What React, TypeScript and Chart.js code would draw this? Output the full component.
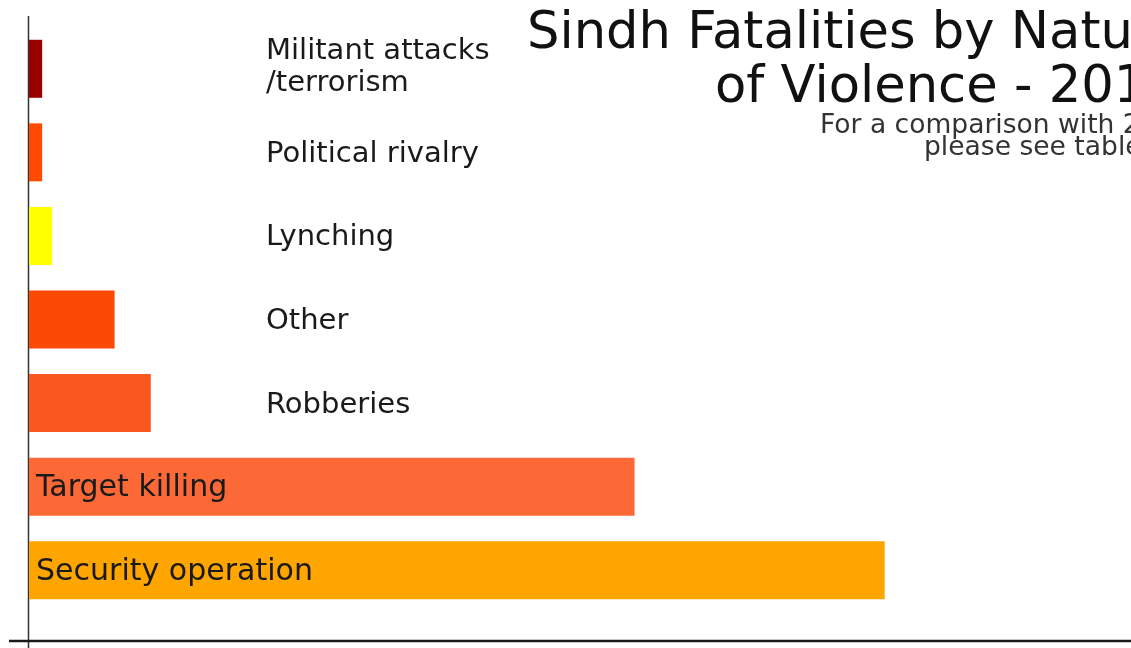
import React, { useEffect, useRef } from "react";
import { Chart, registerables } from "chart.js";

Chart.register(...registerables);

const categories = [
  "Militant attacks\n/terrorism",
  "Political rivalry",
  "Lynching",
  "Other",
  "Robberies",
  "Target killing",
  "Security operation",
];
const fatalities = [4, 4, 7, 26, 37, 184, 260];
const barColors = ["#990000", "#FF4A00", "#FFFF00", "#FA4A05", "#F9581F", "#FC6936", "#FFA500"];
const titleLines = ["Sindh Fatalities by Nature", "of Violence - 2012"];
const subtitleLines = ["For a comparison with 2011", "please see tables"];
const xMax = 340;

const FONT = "'DejaVu Sans', sans-serif";
const CANVAS_W = 1220;
const CANVAS_H = 648;

// choose a font size so that `sample` is `target` px wide
function fitSize(ctx: CanvasRenderingContext2D, sample: string, target: number) {
  ctx.font = `100px ${FONT}`;
  const w = ctx.measureText(sample).width;
  return (100 * target) / w;
}

const decorPlugin = {
  id: "decor",
  beforeDatasetsDraw(chart: any) {
    const ctx = chart.ctx;
    ctx.save();
    ctx.strokeStyle = "#333";
    ctx.lineWidth = 1.5;
    ctx.beginPath();
    ctx.moveTo(28.5, 16);
    ctx.lineTo(28.5, 648);
    ctx.stroke();
    ctx.restore();
  },
  afterDatasetsDraw(chart: any) {
    const ctx = chart.ctx;
    const area = chart.chartArea;
    const meta = chart.getDatasetMeta(0);
    ctx.save();
    // x axis line
    ctx.strokeStyle = "#1a1a1a";
    ctx.lineWidth = 2.5;
    ctx.beginPath();
    ctx.moveTo(9, 641);
    ctx.lineTo(chart.width, 641);
    ctx.stroke();

    const outSize = fitSize(ctx, "Political rivalry", 213);
    const inSize = fitSize(ctx, "Security operation", 277);

    // category labels
    ctx.fillStyle = "#1a1a1a";
    ctx.textAlign = "left";
    ctx.textBaseline = "middle";
    meta.data.forEach((bar: any, i: number) => {
      const lines = String(chart.data.labels[i]).split("\n");
      const inside = bar.x - bar.base > 300;
      ctx.font = `${inside ? inSize : outSize}px ${FONT}`;
      const x = inside ? bar.base + 7 : area.left + 237;
      const lh = 32;
      const shift = lines.length > 1 ? -1 : 2;
      const y0 = bar.y + shift - ((lines.length - 1) * lh) / 2;
      lines.forEach((ln: string, k: number) => ctx.fillText(ln, x, y0 + k * lh));
    });

    // title
    const tSize = fitSize(ctx, "Sindh Fatalities by Natu", 606);
    const sSize = fitSize(ctx, "For a comparison with ", 303);
    ctx.textBaseline = "alphabetic";
    ctx.fillStyle = "#111";
    ctx.font = `${tSize}px ${FONT}`;
    ctx.fillText(titleLines[0], 527, 48);
    ctx.fillText(titleLines[1], 715, 102);
    ctx.fillStyle = "#333";
    ctx.font = `${sSize}px ${FONT}`;
    ctx.fillText(subtitleLines[0], 820, 133);
    ctx.fillText(subtitleLines[1], 924, 155);
    ctx.restore();
  },
};

export default function App() {
  const ref = useRef<HTMLCanvasElement | null>(null);
  useEffect(() => {
    if (!ref.current) return;
    const chart = new Chart(ref.current, {
      type: "bar",
      data: {
        labels: categories,
        datasets: [
          {
            data: fatalities,
            backgroundColor: barColors,
            borderWidth: 0,
            barPercentage: 0.694,
            categoryPercentage: 1,
          },
        ],
      },
      options: {
        indexAxis: "y",
        animation: false,
        responsive: false,
        devicePixelRatio: 1,
        layout: { padding: { left: 29, top: 27, bottom: 36, right: CANVAS_W - 1148 } },
        scales: {
          x: { display: false, min: 0, max: xMax },
          y: { display: false },
        },
        plugins: {
          legend: { display: false },
          tooltip: { enabled: false },
          title: { display: false },
        },
      },
      plugins: [decorPlugin],
    });
    return () => chart.destroy();
  }, []);
  return (
    <div
      style={{
        position: "fixed",
        left: 0,
        top: 0,
        width: 1131,
        height: 648,
        overflow: "hidden",
        background: "#fff",
      }}
    >
      <canvas ref={ref} width={CANVAS_W} height={CANVAS_H} style={{ width: CANVAS_W, height: CANVAS_H, display: "block" }} />
    </div>
  );
}
